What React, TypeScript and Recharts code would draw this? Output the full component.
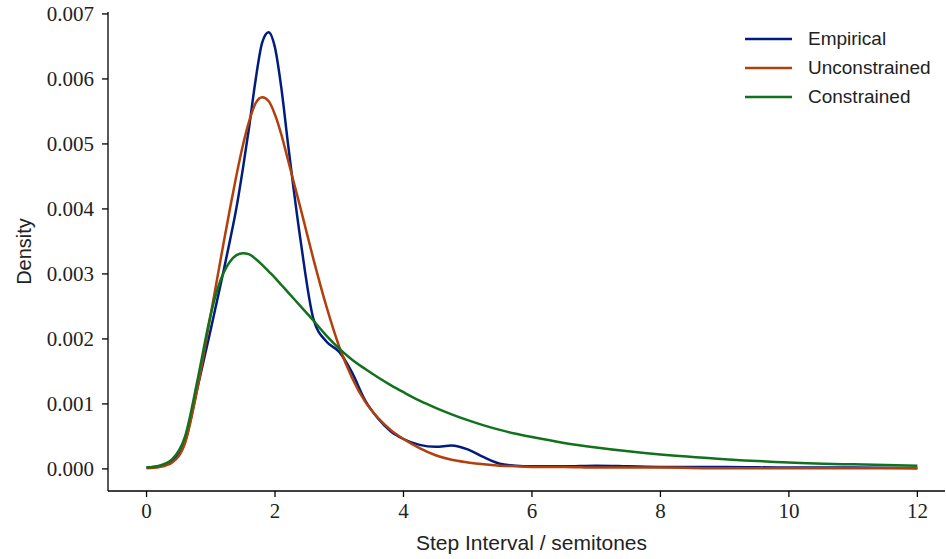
import { LineChart, Line, XAxis, YAxis, Legend } from "recharts";

// step interval grid (semitones)
const intervals = [
  0, 0.2, 0.4, 0.6, 0.8, 1.0, 1.1, 1.2, 1.3, 1.4, 1.5, 1.6, 1.7, 1.8, 1.9, 2.0,
  2.1, 2.2, 2.4, 2.6, 2.8, 3.0, 3.2, 3.4, 3.6, 3.8, 4.0, 4.25, 4.5, 4.75, 5.0,
  5.25, 5.5, 5.75, 6, 6.5, 7, 7.5, 8, 9, 10, 11, 12,
];

const empirical = [
  0.00002, 0.00004, 0.00012, 0.00042, 0.00128, 0.00215, 0.0026, 0.00305,
  0.00352, 0.00402, 0.00462, 0.00528, 0.006, 0.00656, 0.00672, 0.00648,
  0.00585, 0.00502, 0.0035, 0.0023, 0.00196, 0.0018, 0.00148, 0.00106,
  0.00078, 0.00058, 0.00046, 0.00037, 0.00034, 0.00036, 0.0003, 0.00018,
  0.00008, 0.00005, 0.00004, 0.00004, 0.00005, 0.00004, 0.00003, 0.00003,
  0.00002, 0.00002, 0.00001,
];

const unconstrained = [
  0.00001, 0.00003, 0.0001, 0.0004, 0.00128, 0.00238, 0.00293, 0.00348,
  0.00401, 0.00452, 0.00498, 0.00536, 0.00563, 0.00572, 0.00566, 0.00545,
  0.00514, 0.00476, 0.004, 0.00322, 0.0025, 0.00188, 0.0014, 0.00104, 0.00079,
  0.0006, 0.00046, 0.00032, 0.00021, 0.00014, 0.0001, 0.00007, 0.00005,
  0.00004, 0.00003, 0.00003, 0.00002, 0.00002, 0.00002, 0.00001, 0.00001,
  0.00001, 0.00001,
];

const constrained = [
  0.00002, 0.00005, 0.00015, 0.0005, 0.0014, 0.00238, 0.00275, 0.00302,
  0.00319, 0.00329, 0.00332, 0.0033, 0.00323, 0.00314, 0.00304, 0.00294,
  0.00283, 0.00272, 0.0025, 0.00228, 0.00205, 0.00185, 0.00168, 0.00154,
  0.00141, 0.00129, 0.00118, 0.00105, 0.00094, 0.00084, 0.00075, 0.00067,
  0.0006, 0.00054, 0.00049, 0.0004, 0.00033, 0.00027, 0.00022, 0.00015,
  0.0001, 0.00007, 0.00005,
];

const xTicks = [0, 2, 4, 6, 8, 10, 12];
const yTicks = [0, 0.001, 0.002, 0.003, 0.004, 0.005, 0.006, 0.007];

const SERIES = [
  { key: "empirical", name: "Empirical", color: "#001c7f" },
  { key: "unconstrained", name: "Unconstrained", color: "#b1400d" },
  { key: "constrained", name: "Constrained", color: "#12711c" },
];

const data = intervals.map((x, i) => ({
  x,
  empirical: empirical[i],
  unconstrained: unconstrained[i],
  constrained: constrained[i],
}));

const SANS = "'Liberation Sans', Arial, sans-serif";
const SERIF = "'Liberation Serif', 'Times New Roman', serif";

function KdeLegend() {
  return (
    <div style={{ fontFamily: SANS, fontSize: 19, color: "#222" }}>
      {SERIES.map((s) => (
        <div
          key={s.key}
          style={{ display: "flex", alignItems: "center", height: 29 }}
        >
          <svg width={47} height={4} style={{ display: "block" }}>
            <line x1={0} y1={2} x2={47} y2={2} stroke={s.color} strokeWidth={2.5} />
          </svg>
          <span style={{ marginLeft: 16 }}>{s.name}</span>
        </div>
      ))}
    </div>
  );
}

export default function App() {
  return (
    <div style={{ position: "absolute", left: 0, top: 0, background: "#fff" }}>
      <LineChart
        width={946}
        height={559}
        data={data}
        margin={{ top: 12, right: 1, bottom: 0, left: 0 }}
      >
        <XAxis
          dataKey="x"
          type="number"
          domain={[-0.6, 12.43]}
          ticks={xTicks}
          allowDataOverflow
          height={68}
          stroke="#000"
          strokeWidth={1.3}
          tickSize={6}
          tickMargin={6}
          tick={{ fill: "#222", fontFamily: SERIF, fontSize: 21 }}
          label={{
            value: "Step Interval / semitones",
            position: "insideBottom",
            offset: 9,
            dx: 5,
            fill: "#222",
            fontFamily: SANS,
            fontSize: 21,
          }}
        />
        <YAxis
          type="number"
          domain={[-0.00034, 0.00703]}
          ticks={yTicks}
          allowDataOverflow
          width={108}
          stroke="#000"
          strokeWidth={1.3}
          tickSize={6}
          tickMargin={8}
          tickFormatter={(v: number) => v.toFixed(3)}
          tick={{ fill: "#222", fontFamily: SERIF, fontSize: 21 }}
          label={({ viewBox }: any) => {
            const cy = viewBox.y + viewBox.height / 2;
            return (
              <text
                x={24}
                y={cy}
                transform={`rotate(-90, 24, ${cy})`}
                textAnchor="middle"
                dominantBaseline="central"
                fill="#222"
                fontFamily={SANS}
                fontSize={20}
              >
                Density
              </text>
            );
          }}
        />
        <Legend
          layout="vertical"
          align="center"
          verticalAlign="middle"
          content={<KdeLegend />}
          wrapperStyle={{ left: 745, top: 24, width: 200, height: 87 }}
        />
        {SERIES.map((s) => (
          <Line
            key={s.key}
            dataKey={s.key}
            name={s.name}
            type="monotone"
            stroke={s.color}
            strokeWidth={2.5}
            dot={false}
            isAnimationActive={false}
          />
        ))}
      </LineChart>
    </div>
  );
}
